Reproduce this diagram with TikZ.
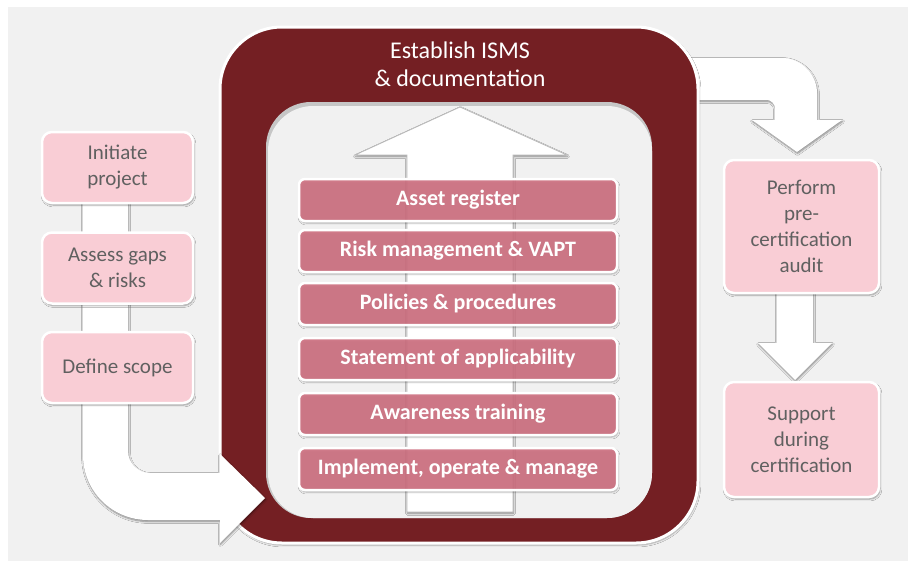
\documentclass[tikz,border=0pt]{standalone}
\usepackage{fontspec}
\setmainfont{Carlito}
\usetikzlibrary{shadows.blur}

\definecolor{ismsred}{RGB}{116,31,35}
\definecolor{barpink}{RGB}{209,112,129}
\definecolor{stagepink}{RGB}{249,205,213}
\definecolor{stagetext}{RGB}{96,96,96}
\definecolor{panelgray}{RGB}{241,241,241}

\begin{document}
\begin{tikzpicture}[x=1pt,y=-1pt,
	flow/.style={fill=white, blur shadow={shadow xshift=.5pt, shadow yshift=-1.5pt, shadow opacity=45, shadow blur steps=6}},
	stage/.style={rounded corners=10, fill=stagepink, draw=white, line width=2.5, text=stagetext, align=center, inner sep=0,
		font=\fontsize{21}{26}\selectfont, blur shadow={shadow xshift=1pt, shadow yshift=-2pt, shadow opacity=40}},
	bar/.style={rounded corners=6, fill=barpink, fill opacity=.88, text opacity=1, draw=white, draw opacity=1, line width=2.5,
		minimum width=318, minimum height=42, inner sep=0, text=white, font=\fontsize{22}{26}\bfseries,
		blur shadow={shadow xshift=1pt, shadow yshift=-2pt, shadow opacity=35}}]

	\useasboundingbox (0,0) rectangle (908,563);
	\fill[panelgray] (8,7) rectangle (908,561);

	% arrow out of the big box, over to the audit
	\path[flow] (680,58) -- (782,58) .. controls (801,58) and (817,74) .. (817,93) -- (817,120) -- (842,120) -- (797,152)
		-- (752,120) -- (775,120) -- (775,108) .. controls (775,104) and (771,100) .. (767,100) -- (680,100) -- cycle;
	% arrow from audit down to certification
	\path[flow] (777,285) -- (813,285) -- (813,343) -- (832,343) -- (795,380) -- (758,343) -- (777,343) -- cycle;

	% the ISMS frame
	\draw[fill=ismsred, draw=white, line width=3, rounded corners=62,
		blur shadow={shadow xshift=1pt, shadow yshift=-2pt, shadow opacity=35}] (220,27) rectangle (698,543);
	\fill[gray!45, rounded corners=45] (266,102) rectangle (652,518);
	\fill[panelgray, rounded corners=45] (268,106) rectangle (652,518);
	\node[text=white, align=center, font=\fontsize{24}{28}\selectfont] (title) at (460,64) {Establish ISMS\\\& documentation};

	% big up arrow behind the bars
	\path[flow, draw=gray!55, line width=.8] (407,512) -- (407,155) -- (355,155) -- (460,107) -- (567,155)
		-- (513,155) -- (513,512) -- cycle;

	\foreach \y/\txt [count=\i] in {200/Asset register, 251/Risk management \& VAPT, 304/Policies \& procedures,
		359/Statement of applicability, 414/Awareness training, 469/{Implement, operate \& manage}} {
		\node[bar] (item\i) at (458,\y) {\txt};
	}

	% arrow from the scope down and into the frame
	\path[flow] (83,180) -- (83,455) .. controls (83,491) and (112,520) .. (148,520) -- (220,520) -- (220,543) -- (265,498)
		-- (220,454) -- (220,473) -- (150,473) .. controls (138,473) and (128,463) .. (128,451) -- (128,180) -- cycle;

	\node[stage, minimum width=151, minimum height=71] (initiate) at (117.5,167.5) {Initiate\\project};
	\node[stage, minimum width=151, minimum height=71] (assess) at (117.5,268) {Assess gaps\\\& risks};
	\node[stage, minimum width=151, minimum height=71] (scope) at (117.5,367.5) {Define scope};

	\node[stage, minimum width=155, minimum height=133] (audit) at (801.5,226.5) {Perform\\pre-\\certification\\audit};
	\node[stage, minimum width=155, minimum height=115] (support) at (801.5,439.5) {Support\\during\\certification};
\end{tikzpicture}
\end{document}
